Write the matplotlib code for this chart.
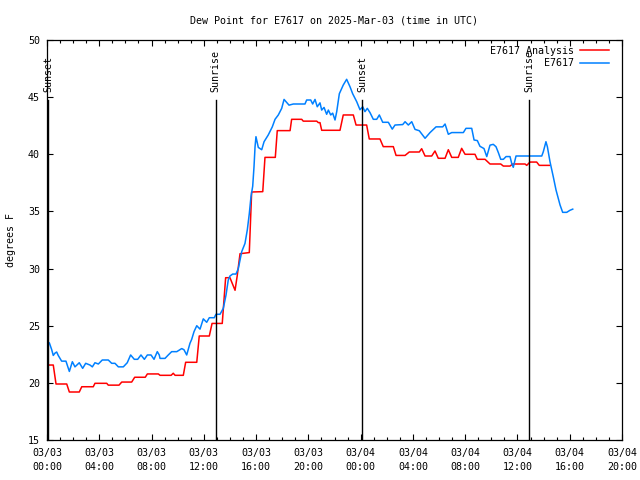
import numpy as np
import pandas as pd
import matplotlib
matplotlib.use("Agg")
import matplotlib.pyplot as plt
import matplotlib.dates as mdates
import matplotlib.transforms as mtransforms

# ---------------- data ----------------
start = pd.Timestamp("2025-03-03 00:00")

# E7617 Analysis (hours after start, deg F)
analysis_hours = [0.0, 0.48, 0.69, 1.51, 1.71, 2.47, 2.66, 3.54, 3.67, 4.57, 4.69, 5.51,
                  5.72, 6.48, 6.71, 7.52, 7.68, 8.52, 8.65, 9.5, 9.66, 9.8, 10.43, 10.61,
                  11.46, 11.65, 12.42, 12.63, 13.41, 13.67, 14.0, 14.39, 14.56, 14.77, 15.48,
                  15.66, 16.51, 16.68, 17.47, 17.62, 18.6, 18.72, 19.49, 19.61, 20.64, 20.76,
                  20.89, 21.02, 22.42, 22.67, 23.44, 23.65, 24.46, 24.66, 25.48, 25.73, 26.5,
                  26.71, 27.4, 27.72, 28.49, 28.67, 28.93, 29.44, 29.69, 29.94, 30.46, 30.71,
                  30.97, 31.47, 31.73, 31.99, 32.75, 32.93, 33.52, 33.9, 34.72, 34.92, 35.43,
                  35.64, 36.58, 36.71, 36.96, 37.47, 37.67, 38.44]
analysis_vals = [21.56, 21.56, 19.9, 19.9, 19.2, 19.2, 19.66, 19.66, 19.96, 19.96, 19.8, 19.8,
                 20.07, 20.07, 20.49, 20.49, 20.78, 20.78, 20.66, 20.66, 20.84, 20.66, 20.66, 21.8,
                 21.8, 24.1, 24.1, 25.2, 25.2, 29.2, 29.2, 28.1, 29.4, 31.3, 31.4,
                 36.7, 36.73, 39.73, 39.73, 42.07, 42.07, 43.06, 43.06, 42.9, 42.9, 42.77,
                 42.77, 42.1, 42.1, 43.44, 43.44, 42.56, 42.56, 41.34, 41.34, 40.67, 40.67,
                 39.9, 39.9, 40.2, 40.2, 40.49, 39.85, 39.85, 40.29, 39.65, 39.65, 40.4,
                 39.73, 39.73, 40.52, 40.0, 40.0, 39.56, 39.56, 39.15, 39.15, 38.97, 38.97,
                 39.15, 39.15, 39.03, 39.32, 39.32, 39.03, 39.03]

# E7617 observations (hours after start, deg F)
obs_hours = [0.0, 0.18, 0.36, 0.48, 0.61, 0.74, 0.86, 1.12, 1.45, 1.71, 1.94, 2.14, 2.47,
             2.73, 2.96, 3.29, 3.47, 3.67, 3.93, 4.23, 4.69, 4.95, 5.2, 5.46, 5.84, 6.14,
             6.4, 6.68, 6.94, 7.19, 7.45, 7.68, 7.96, 8.19, 8.44, 8.59, 8.65, 9.03, 9.28,
             9.54, 9.93, 10.31, 10.48, 10.69, 10.94, 11.07, 11.25, 11.46, 11.71, 11.96,
             12.22, 12.42, 12.8, 12.93, 13.24, 13.49, 13.7, 13.87, 14.0, 14.21, 14.46,
             14.64, 14.77, 14.9, 15.15, 15.33, 15.48, 15.61, 15.74, 15.84, 15.92, 15.99,
             16.17, 16.43, 16.61, 16.93, 17.24, 17.45, 17.7, 17.96, 18.14, 18.29, 18.52,
             18.85, 19.74, 19.87, 20.18, 20.33, 20.51, 20.68, 20.89, 21.02, 21.2, 21.4,
             21.53, 21.71, 21.86, 22.04, 22.17, 22.37, 22.67, 22.93, 23.19, 23.39, 23.7,
             23.95, 24.16, 24.33, 24.51, 24.72, 24.97, 25.23, 25.43, 25.69, 26.12, 26.42,
             26.63, 27.22, 27.4, 27.65, 27.91, 28.16, 28.49, 28.93, 29.31, 29.77, 30.28,
             30.46, 30.71, 30.97, 31.86, 32.06, 32.5, 32.68, 32.93, 33.13, 33.44, 33.65,
             33.9, 34.15, 34.36, 34.54, 34.72, 34.92, 35.13, 35.43, 35.56, 35.68, 35.89,
             37.86, 37.98, 38.18, 38.29, 38.49, 38.74, 38.95, 39.26, 39.46, 39.77, 40.02,
             40.23]
obs_vals = [23.6, 23.5, 22.9, 22.4, 22.6, 22.7, 22.4, 21.9, 21.9, 21.0, 21.85, 21.4, 21.76,
            21.27, 21.71, 21.56, 21.4, 21.76, 21.65, 22.0, 22.0, 21.71, 21.71, 21.4, 21.4,
            21.76, 22.44, 22.06, 22.06, 22.44, 22.06, 22.44, 22.44, 22.06, 22.73, 22.44,
            22.14, 22.14, 22.44, 22.73, 22.73, 23.0, 22.9, 22.44, 23.46, 23.8, 24.48, 25.0,
            24.7, 25.6, 25.3, 25.7, 25.7, 26.0, 26.0, 26.52, 27.69, 29.0, 29.35, 29.52,
            29.52, 30.0, 30.75, 31.48, 32.2, 33.4, 34.8, 36.3, 37.2, 38.9, 40.66, 41.54,
            40.6, 40.4, 41.1, 41.69, 42.4, 43.06, 43.44, 44.02, 44.8, 44.6, 44.3, 44.4,
            44.4, 44.75, 44.75, 44.4, 44.8, 44.16, 44.5, 43.87, 44.1, 43.5, 43.87, 43.44,
            43.6, 43.0, 43.73, 45.3, 46.06, 46.56, 45.9, 45.3, 44.6, 43.9, 44.16, 43.73,
            44.02, 43.64, 43.06, 43.06, 43.44, 42.8, 42.8, 42.2, 42.56, 42.6, 42.85, 42.56,
            42.85, 42.18, 42.06, 41.4, 41.9, 42.4, 42.4, 42.65, 41.75, 41.9, 41.9, 42.27,
            42.27, 41.25, 41.2, 40.7, 40.5, 39.8, 40.8, 40.87, 40.66, 40.14, 39.56, 39.56,
            39.8, 39.8, 39.2, 38.86, 39.85, 39.85, 40.23, 41.1, 40.66, 39.35, 38.04, 36.88,
            35.56, 34.92, 34.92, 35.1, 35.2]

# Sun events (hours after start)
event_hours = [0.1, 12.9, 24.13, 36.9]
event_labels = ["Sunset", "Sunrise", "Sunset", "Sunrise"]

title = "Dew Point for E7617 on 2025-Mar-03 (time in UTC)"
ylabel = "degrees F"
series_labels = ["E7617 Analysis", "E7617"]
series_colors = ["#ff0000", "#0080ff"]
y_ticks = [15, 20, 25, 30, 35, 40, 45, 50]
x_end = pd.Timestamp("2025-03-04 20:00")


def to_time(hours):
    return start + pd.to_timedelta(np.asarray(hours, dtype=float), unit="h")


# ---------------- plot ----------------
plt.rcParams["font.family"] = ["DejaVu Sans Mono"]
plt.rcParams["font.size"] = 7.2

fig = plt.figure(figsize=(6.4, 4.8), dpi=100)
ax = fig.add_axes([47 / 640, 1 - 440 / 480, 575 / 640, 400 / 480])

ax.plot(to_time(analysis_hours), analysis_vals, color=series_colors[0], lw=1.1,
        label=series_labels[0])
ax.plot(to_time(obs_hours), obs_vals, color=series_colors[1], lw=1.1,
        label=series_labels[1])

trans = mtransforms.blended_transform_factory(ax.transData, ax.transAxes)
for t, lab in zip(to_time(event_hours), event_labels):
    ax.axvline(t, ymin=0, ymax=0.85, color="black", lw=1.0)
    ax.text(t, 0.87, lab, transform=trans, rotation=90, ha="center", va="bottom",
            fontsize=7.2)

ax.set_xlim(start, x_end)
ax.set_ylim(y_ticks[0], y_ticks[-1])
ax.set_yticks(y_ticks)
ax.xaxis.set_major_locator(mdates.HourLocator(byhour=range(0, 24, 4)))
ax.xaxis.set_minor_locator(mdates.HourLocator())
ax.xaxis.set_major_formatter(mdates.DateFormatter("%m/%d\n%H:%M"))
for lbl in ax.get_xticklabels():
    lbl.set_linespacing(1.45)

ax.tick_params(axis="both", which="major", direction="in", length=4.5, width=0.8,
               top=True, right=True, labelsize=7.2)
ax.tick_params(axis="x", which="major", pad=6)
ax.tick_params(axis="y", which="major", pad=5)
ax.tick_params(axis="x", which="minor", direction="in", length=2.5, width=0.8,
               top=True)
for s in ax.spines.values():
    s.set_linewidth(0.9)

ax.set_title(title, fontsize=7.2, pad=12)
ax.set_ylabel(ylabel, fontsize=7.2)
ax.yaxis.set_label_coords(-0.054, 0.5)

leg = ax.legend(loc="upper right", bbox_to_anchor=(0.977, 0.986), markerfirst=False,
                frameon=False, handlelength=2.9, handletextpad=0.6, labelspacing=0.25,
                borderpad=0, borderaxespad=0, fontsize=7.2)

fig.savefig("out.png", dpi=100)
